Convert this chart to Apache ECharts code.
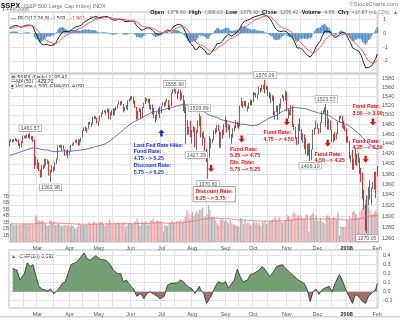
<!DOCTYPE html>
<html>
<head>
<meta charset="utf-8">
<script src="https://cdn.jsdelivr.net/npm/echarts@6/dist/echarts.min.js"></script>
<style>
html,body{margin:0;padding:0;background:#fff}
#chart{width:400px;height:322px}
</style>
</head>
<body>
<div id="chart"></div>
<script>
// $SPX daily bars, 1-Feb-2007 .. 1-Feb-2008 (253 sessions)
// closes from Nov-2006 to Jan-2007, used only to seed the moving averages
const priorCloses = [
  1367.8,1367.3,1364.3,1379.8,1382.8,1385.7,1378.3,1380.9,1384.4,1393.2,1396.6,1399.8,1401.2,1400.5,1402.8,1406.1,1400.9,1381.4,1386.7,1399.5,1400.6,
  1396.7,1409.1,1414.8,1412.9,1407.3,1409.8,1413.0,1411.6,1413.2,1425.5,1427.1,1422.5,1425.5,1423.5,1418.3,1410.8,1416.9,1426.8,1424.7,1418.3,
  1416.6,1418.3,1409.7,1412.8,1412.1,1414.9,1423.8,1430.7,1431.9,1430.6,1426.4,1430.5,1423.0,1428.0,1440.1,1423.9,1422.2,1420.6,1428.8,1438.2
];

const opens = [
  1438,1446,1448,1447,1448,1450,1448,1438,1433,1444,1455,1456,1455,1460,1458,1456,1451,1449,1399,
  1407,1403,1387,1374,1395,1392,1402,1403,1406,1378,1387,1392,1387,1402,1411,1435,1435,1436,1437,1429,1417,1423,
  1421,1425,1438,1439,1444,1445,1448,1439,1448,1453,1468,1471,1472,1471,1484,1481,1480,1495,1494,1494,
  1482,1486,1496,1502,1506,1509,1508,1513,1491,1506,1503,1501,1514,1513,1523,1525,1524,1522,1508,1516,1518,1530,
  1531,1536,1539,1531,1517,1491,1508,1509,1493,1516,1523,1533,1531,1534,1513,1522,1503,1498,1493,1506,1506,
  1503,1519,1525,1525,1530,1532,1510,1519,1548,1553,1550,1549,1546,1553,1534,1542,1511,1518,1483,1459,1474,
  1455,1466,1472,1433,1468,1477,1497,1453,1454,1453,1427,1407,1411,1446,1446,1447,1464,1463,1479,1467,1432,1464,1458,
  1474,1489,1472,1479,1454,1452,1471,1472,1484,1484,1477,1520,1529,1519,1526,1518,1517,1525,1531,
  1527,1547,1547,1540,1543,1558,1553,1565,1562,1554,1562,1549,1539,1541,1540,1501,1506,1520,1516,1514,1535,1541,1531,
  1549,1508,1510,1502,1520,1476,1475,1454,1439,1481,1471,1451,1459,1433,1440,1417,1441,1407,1428,1469,1470,
  1481,1472,1463,1485,1507,1505,1516,1478,1487,1488,1468,1446,1455,1453,1460,1484,1496,1498,1476,1478,
  1468,1447,1445,1412,1416,1390,1406,1420,1402,1411,1378,1374,1334,1312,1310,1340,1357,1330,1353,1363,1356,1378.60
];
const highs = [
  1447,1450,1449,1450,1452,1450,1449,1441,1446,1457,1457,1457,1460,1460,1461.57,1456,1456,1449,1415,
  1409,1403,1389,1398,1398,1410,1410,1409,1406,1388,1397,1394,1404,1411,1437,1438,1438,1438,1437,1429,1426,1429,
  1425,1438,1441,1444,1448,1449,1449,1449,1453,1468,1474,1476,1473,1485,1486,1484,1496,1498,1497,1494,
  1487,1499,1505,1510,1511,1509,1514,1513,1506,1510,1514,1514,1517,1523,1529,1529,1530,1523,1517,1521,1531,1535,
  1540,1540,1539,1531,1517,1508,1515,1513,1517,1526,1538,1535,1535,1535,1522,1522,1515,1500,1507,1514,1518,
  1519,1527,1527,1531,1534,1532,1522,1548,1555,1555.90,1555,1550,1555,1553,1547,1542,1531,1518,1489,1475,1488,
  1469,1477,1474,1468,1488,1503.89,1497,1463,1466,1453,1430,1416,1456,1451,1450,1468,1472,1479,1479,1467,1464,1469,1481,
  1497,1489,1481,1479,1460,1472,1478,1489,1485,1484,1520,1538,1529,1530,1530,1518,1526,1533,1532,
  1549,1548,1547,1544,1561,1558,1565,1565,1576.09,1563,1562,1549,1546,1542,1540,1508,1521,1520,1524,1535,1544,1541,1553,
  1549,1513,1510,1521,1520,1482,1475,1454,1481,1492,1471,1462,1459,1452,1440,1441,1441,1429,1469,1473,1488,
  1482,1472,1485,1508,1511,1516,1523.57,1511,1492,1488,1468,1460,1464,1462,1485,1498,1499,1498,1488,1478,
  1472,1456,1447,1418,1428,1410,1431,1420,1422,1411,1392,1383,1350,1322,1339,1355,1368,1354,1365,1384,1385,1396.02
];
const lows = [
  1435,1444,1443,1444,1446,1444,1436,1431,1433,1441,1452,1450,1452,1452,1450,1448,1444,1390,1397,
  1390,1386,1373,1374,1389,1392,1397,1400,1377,1363.98,1383,1384,1387,1400,1409,1432,1432,1425,1428,1416,1417,1411,
  1417,1425,1436,1437,1442,1441,1436,1437,1444,1453,1466,1466,1463,1471,1479,1475,1480,1491,1491,1482,
  1477,1486,1495,1501,1505,1500,1505,1491,1491,1499,1498,1500,1509,1513,1522,1520,1522,1505,1508,1512,1510,1528,
  1530,1533,1524,1515,1490,1491,1506,1492,1493,1515,1523,1529,1525,1512,1510,1501,1493,1484,1490,1501,1493,
  1503,1519,1516,1520,1528,1510,1510,1519,1546,1549,1545,1533,1546,1530,1534,1508,1504,1440,1458,1459,1454,
  1440,1464,1433,1427.39,1463,1476,1453,1436,1451,1426,1404,1370.60,1411,1431,1441,1447,1460,1463,1466,1432,1432,1451,1458,
  1474,1463,1468,1453,1440,1452,1465,1472,1474,1471,1476,1518,1514,1519,1516,1507,1513,1521,1520,
  1527,1542,1537,1534,1543,1548,1552,1556,1546,1554,1540,1535,1525,1530,1500,1490,1506,1489,1503,1514,1535,1529,1531,
  1508,1492,1499,1499,1475,1468,1450,1438,1439,1466,1448,1443,1429,1419,1415,1417,1406.10,1407,1428,1458,1470,
  1470,1460,1463,1483,1502,1505,1475,1469,1469,1467,1444,1443,1446,1449,1460,1484,1492,1473,1470,1466,
  1442,1443,1410,1403,1389,1388,1398,1396,1402,1380,1365,1332,1313,1274,1270.05,1320,1331,1322,1351,1350,1334,1375.93
];
const closes = [
  1446,1448,1447,1448,1450,1448,1438,1433,1444,1455,1457,1456,1460,1458,1456,1451,1449,1399,1407,
  1403,1387,1374,1395,1392,1402,1403,1407,1378,1387,1392,1387,1402,1411,1435,1435,1436,1438,1429,1417,1423,1421,
  1425,1438,1439,1444,1445,1448,1439,1448,1453,1468,1471,1473,1471,1484,1481,1480,1495,1494,1494,1482,
  1486,1496,1502,1506,1509,1508,1513,1491,1506,1503,1501,1514,1513,1523,1525,1524,1522,1508,1516,1518,1530,1531,
  1536,1539,1531,1517,1491,1508,1509,1493,1516,1523,1533,1531,1534,1513,1522,1503,1498,1493,1506,1506,1503,
  1519,1525,1525,1530,1532,1510,1519,1548,1553,1550,1549,1546,1553,1534,1542,1511,1518,1483,1459,1474,1455,
  1466,1472,1433,1468,1477,1497,1453,1454,1453,1427,1407,1411,1446,1446,1447,1464,1463,1479,1467,1432,1464,1458,1474,
  1489,1472,1479,1454,1452,1471,1472,1484,1484,1477,1520,1529,1519,1526,1518,1517,1525,1531,1527,
  1547,1547,1540,1543,1558,1553,1565,1562,1554,1562,1549,1539,1541,1540,1501,1506,1520,1516,1514,1535,1541,1531,1549,
  1508,1510,1502,1520,1476,1475,1454,1439,1481,1471,1451,1459,1433,1440,1417,1441,1407,1428,1469,1470,1481,
  1472,1463,1485,1507,1505,1516,1478,1487,1488,1468,1446,1455,1453,1460,1484,1496,1498,1476,1478,1468,
  1447,1447,1412,1416,1390,1409,1420,1401,1416,1381,1373,1333,1325,1311,1339,1352,1331,1354,1362,1356,1378.55,1395.42
];
// daily volume, billions of shares
const volumes = [
  2.8,2.9,2.6,2.6,2.7,2.6,2.7,2.6,2.7,2.9,2.8,2.6,2.9,2.7,2.8,2.7,2.8,4.1,4.0,
  3.4,3.2,3.3,3.3,3.0,2.8,2.5,2.6,3.4,3.3,2.9,3.2,2.6,2.7,2.9,2.6,2.4,2.5,2.6,2.7,2.5,2.7,
  2.3,2.6,2.5,2.1,2.0,2.4,2.9,2.6,2.7,2.6,2.7,2.7,2.6,3.0,2.7,2.8,3.1,2.9,2.9,2.6,
  3.0,3.1,3.1,2.8,2.5,2.9,2.8,3.5,2.9,2.7,3.0,2.8,2.9,3.0,2.9,2.7,2.9,3.0,2.1,2.5,2.9,3.0,
  2.9,2.8,3.1,3.1,3.6,3.1,2.5,3.2,3.0,3.0,3.2,2.6,2.8,3.3,3.3,3.6,3.0,3.3,3.3,3.2,3.2,
  2.9,1.6,2.6,2.5,2.5,3.0,3.0,3.3,3.0,3.0,3.2,3.2,3.2,3.5,3.0,3.4,3.9,4.9,4.5,3.5,4.2,
  4.6,4.0,4.4,4.8,4.4,5.0,5.0,5.3,3.8,4.0,4.3,5.7,5.0,3.8,3.9,3.8,3.4,2.9,2.6,3.4,3.5,3.4,3.2,
  3.4,3.0,2.9,3.4,2.9,2.7,2.7,2.6,2.4,2.4,3.7,3.6,2.8,3.5,2.8,3.0,2.9,2.6,2.8,
  3.1,2.9,3.1,2.7,2.9,2.4,3.0,3.0,3.4,2.8,3.0,3.3,3.3,3.5,3.7,3.8,3.3,3.7,3.9,3.2,3.0,3.2,3.3,
  4.2,4.0,3.9,3.5,4.4,4.6,4.2,3.9,4.1,4.1,3.9,3.6,3.6,4.3,4.1,1.6,4.0,4.2,4.5,3.4,4.1,
  3.3,3.3,3.7,3.1,3.0,2.8,4.0,4.2,3.9,3.4,3.6,3.8,3.5,3.5,4.5,1.1,2.4,2.3,2.3,2.4,
  3.6,3.2,4.0,3.7,4.6,4.8,4.4,4.2,3.7,4.6,4.9,5.2,5.6,6.5,7.2,5.4,4.9,4.2,4.4,4.6,4.9,4.5
];
// Chaikin Money Flow (20), sampled sessions and values
const cmfDays = [2,5,7,10,12,14,16,18,20,22,26,28,30,32,36,38,42,46,51,53,55,59,62,66,69,71,74,76,78,80,83,85,87,90,92,94,96,99,101,103,106,108,110,115,117,119,122,125,127,130,131,133,135,138,141,143,146,148,150,154,156,158,160,163,165,167,171,173,175,178,180,183,187,189,191,195,198,202,204,206,208,210,212,214,216,219,221,223,226,228,231,235,237,239,242,244,246,248,251,252];
const cmfValues = [0.26,0.24,0.13,0.20,0.32,0.28,0.30,0.17,0.06,0.03,0.01,0.03,-0.02,0.00,0.09,0.11,0.30,0.33,0.43,0.37,0.35,0.40,0.36,0.35,0.30,0.24,0.20,0.20,0.11,0.13,0.06,0.03,-0.05,-0.02,-0.08,-0.02,0.00,-0.03,-0.05,-0.08,-0.05,0.07,0.09,0.10,0.13,0.11,0.06,0.03,-0.02,0.06,0.02,-0.02,-0.13,-0.05,0.06,0.11,0.09,0.11,0.04,0.13,0.25,0.17,0.11,0.13,0.19,0.20,0.24,0.28,0.25,0.17,0.20,0.28,0.30,0.26,0.23,0.17,0.13,0.09,0.02,-0.11,0.00,0.03,-0.03,0.02,0.04,0.06,0.00,0.09,0.19,0.13,0.00,-0.13,-0.03,-0.05,-0.11,-0.13,-0.05,-0.02,0.03,0.092];

// axis ticks and calendar marks
const monthStartDays = [19,41,61,83,104,125,148,167,190,211,231,252];
const monthLabels = ['Mar','Apr','May','Jun','Jul','Aug','Sep','Oct','Nov','Dec','2008','Feb'];
const midMonthDays = [10,30,50,71,93,113,135,157,177,200,221,240];
const priceTicks = [1260,1280,1300,1320,1340,1360,1380,1400,1420,1440,1460,1480,1500,1520,1540,1560,1580];
const ppoTicks = [-2,-1,0,1];
const volumeTicks = [1,2,3,4,5,6,7];
const cmfTicks = [-0.1,0,0.1,0.2,0.3,0.4];

// swing highs / lows that carry a price tag
const pivotDays = [14,28,113,128,130,136,175,206,217,245];
const pivotSides = ['high','low','high','low','high','low','high','low','high','low'];

// Fed announcements: arrow anchors and note anchors (session, price)
const arrowDays = [104,138,159,190,218,249,244];
const arrowPrices = [1462,1391,1450,1485,1441,1485,1409];
const noteDays = [85,126,151,174,209,235,235];
const notePrices = [1444,1355,1436,1470,1426,1525,1452];
const noteTexts = [
  'Last Fed Rate Hike:\nFund Rate:\n4.75 --> 5.25\nDiscount Rate:\n5.75 --> 6.25',
  'Discount Rate:\n6.25 --> 5.75',
  'Fund Rate:\n5.25 --> 4.75\nDis. Rate:\n5.75 --> 5.25',
  'Fund Rate:\n4.75 --> 4.50',
  'Fund Rate:\n4.50 --> 4.25',
  'Fund Rate:\n3.50 --> 3.00',
  'Fund Rate:\n4.25 --> 3.50'
];

// ---- indicators ----
function ema(src, n) {
  const k = 2 / (n + 1);
  let e = src[0];
  return src.map((v, i) => (e = i === 0 ? v : v * k + e * (1 - k)));
}
const allCloses = priorCloses.concat(closes);
const P = priorCloses.length;
const e12 = ema(allCloses, 12), e26 = ema(allCloses, 26);
const ppoAll = allCloses.map((_, i) => (e12[i] - e26[i]) / e26[i] * 100);
const sigAll = ema(ppoAll, 9);
const ppo = ppoAll.slice(P), ppoSignal = sigAll.slice(P);
const ppoHist = ppo.map((v, i) => v - ppoSignal[i]);
const ma50 = closes.map((_, i) => {
  let s = 0;
  for (let j = i + P - 49; j <= i + P; j++) s += allCloses[j];
  return s / 50;
});
const volEma = ema(volumes, 60);
const prevClose = i => (i === 0 ? priorCloses[P - 1] : closes[i - 1]);

const N = closes.length;
const cats = closes.map((_, i) => String(i));
const last = N - 1;

const FONT = 'Liberation Sans, Arial, sans-serif';
const GRID_LINE = '#e3e3e3';
const FRAME = '#bdbdbd';
const LEFT = 9, WIDTH = 369;

const candleData = closes.map((c, i) => {
  const down = c < prevClose(i);
  const col = down ? '#d00000' : '#4a4a4a';
  return {
    value: [opens[i], c, lows[i], highs[i]],
    itemStyle: { color: '#ffffff', color0: col, borderColor: col, borderColor0: col }
  };
});
const volumeData = volumes.map((v, i) => ({
  value: v,
  itemStyle: { color: closes[i] < prevClose(i) ? '#f4a7ad' : '#b3b3b3' }
}));
const cmfData = cmfDays.map((d, i) => [d, cmfValues[i]]);
const cmfTop = Math.max(...cmfValues), cmfBottom = Math.min(...cmfValues);
const cmfZeroStop = cmfTop / (cmfTop - cmfBottom);
const CMF_UP = '#74a074', CMF_DOWN = '#a86a6a';

const isGridDay = i => i === 0 || monthStartDays.includes(i) || midMonthDays.includes(i);

function xAxisFor(gridIndex, withLabels) {
  return {
    type: 'category', gridIndex, data: cats, boundaryGap: true,
    axisLine: { show: false }, axisTick: { show: false },
    axisLabel: withLabels ? {
      show: true, fontSize: 5.5, color: '#555', fontFamily: FONT, margin: 3,
      interval: idx => monthStartDays.includes(idx),
      formatter: (v) => {
        const t = monthLabels[monthStartDays.indexOf(Number(v))];
        return t === '2008' ? '{b|2008}' : t;
      },
      rich: { b: { fontWeight: 'bold', fontSize: 5.5, color: '#222', fontFamily: FONT } }
    } : { show: false },
    splitLine: { show: true, interval: idx => isGridDay(idx), lineStyle: { color: GRID_LINE, width: 1 } }
  };
}

const pivotMarks = pivotDays.map((d, i) => {
  const hi = pivotSides[i] === 'high';
  const v = hi ? highs[d] : lows[d];
  return {
    coord: [d, v], symbol: 'rect', symbolSize: 0,
    label: {
      show: true, position: hi ? 'top' : 'bottom', distance: 2,
      formatter: v.toFixed(2), fontSize: 5.2, color: '#555', fontFamily: FONT,
      backgroundColor: '#ffffff', borderColor: '#9a9a9a', borderWidth: 0.6, padding: [1, 1.5, 0, 1.5]
    }
  };
});
const DOWN_ARROW = 'path://M3,0L7,0L7,5L10,5L5,10L0,5L3,5Z';
const UP_ARROW = 'path://M5,0L10,5L7,5L7,10L3,10L3,5L0,5Z';
const arrowMarks = arrowDays.map((d, i) => ({
  coord: [d, arrowPrices[i]], symbol: i === 0 ? UP_ARROW : DOWN_ARROW, symbolSize: [6, 7],
  itemStyle: { color: i === 0 ? '#1030e0' : '#e01010' }, label: { show: false }
}));
const noteMarks = noteDays.map((d, i) => ({
  coord: [d, notePrices[i]], symbol: 'rect', symbolSize: 0,
  label: Object.assign({
    show: true, position: [0, 0], align: 'left', verticalAlign: 'top',
    formatter: noteTexts[i], fontSize: 5.3, lineHeight: 6.7, fontWeight: 'bold', fontFamily: FONT,
    color: i === 0 ? '#1a2cf0' : '#ee1111'
  }, i === 1 ? { backgroundColor: '#ffffff', borderColor: '#8a8a8a', borderWidth: 0.8, padding: [1, 2, 0, 2] } : {})
}));

const option = {
  animation: false,
  backgroundColor: '#ffffff',
  textStyle: { fontFamily: FONT },
  grid: [
    { left: LEFT, width: WIDTH, top: 12, height: 61, show: true, borderColor: FRAME, borderWidth: 1, backgroundColor: '#fff' },
    { left: LEFT, width: WIDTH, top: 74, height: 168, show: true, borderColor: FRAME, borderWidth: 1, backgroundColor: '#fff' },
    { left: LEFT, width: WIDTH, top: 190, height: 52, show: false },
    { left: LEFT, width: WIDTH, top: 250, height: 58, show: true, borderColor: FRAME, borderWidth: 1, backgroundColor: '#fff' }
  ],
  xAxis: [
    xAxisFor(0, false),
    xAxisFor(1, true),
    Object.assign(xAxisFor(2, false), { splitLine: { show: false } }),
    xAxisFor(3, true)
  ],
  yAxis: [
    { type: 'value', gridIndex: 0, position: 'right', min: -2.88, max: 1.54,
      axisLine: { show: false }, axisTick: { show: false, customValues: ppoTicks },
      axisLabel: { customValues: ppoTicks, fontSize: 5.5, color: '#555', margin: 5 },
      splitLine: { show: true, lineStyle: { color: GRID_LINE } } },
    { type: 'log', logBase: 10, gridIndex: 1, position: 'right', min: 1254, max: 1589,
      axisLine: { show: false }, axisTick: { show: false, customValues: priceTicks },
      axisLabel: { customValues: priceTicks, formatter: v => String(Math.round(v)), fontSize: 5.5, color: '#555', margin: 4 },
      splitLine: { show: true, lineStyle: { color: GRID_LINE } } },
    { type: 'value', gridIndex: 2, position: 'left', min: 0, max: 8,
      axisLine: { show: false }, axisTick: { show: false, customValues: volumeTicks },
      axisLabel: { customValues: volumeTicks, formatter: v => v + 'B', fontSize: 4.8, color: '#666', margin: 1 },
      splitLine: { show: false } },
    { type: 'value', gridIndex: 3, position: 'right', min: -0.181, max: 0.463,
      axisLine: { show: false }, axisTick: { show: false, customValues: cmfTicks },
      axisLabel: { customValues: cmfTicks, formatter: v => v.toFixed(1), fontSize: 5.5, color: '#555', margin: 5 },
      splitLine: { show: true, lineStyle: { color: GRID_LINE } } }
  ],
  series: [
    { name: 'PPO hist', type: 'bar', xAxisIndex: 0, yAxisIndex: 0, data: ppoHist,
      barCategoryGap: '0%', itemStyle: { color: '#4f93cc' } },
    { name: 'PPO', type: 'line', xAxisIndex: 0, yAxisIndex: 0, data: ppo, symbol: 'none',
      lineStyle: { color: '#111', width: 0.9 } },
    { name: 'Signal', type: 'line', xAxisIndex: 0, yAxisIndex: 0, data: ppoSignal, symbol: 'none',
      lineStyle: { color: '#ff4c4c', width: 0.9 } },
    { name: 'Volume', type: 'bar', xAxisIndex: 2, yAxisIndex: 2, data: volumeData,
      barCategoryGap: '15%' },
    { name: 'Volume EMA', type: 'line', xAxisIndex: 2, yAxisIndex: 2, data: volEma, symbol: 'none',
      lineStyle: { color: '#ee7070', width: 0.8 } },
    { name: '$SPX', type: 'candlestick', xAxisIndex: 1, yAxisIndex: 1, data: candleData,
      barWidth: 1, itemStyle: { borderWidth: 0.8 } },
    { name: 'MA(50)', type: 'line', xAxisIndex: 1, yAxisIndex: 1, data: ma50, symbol: 'none',
      lineStyle: { color: '#4848a8', width: 0.8 }, z: 3,
      markPoint: { silent: true, data: pivotMarks.concat(arrowMarks, noteMarks) } },
    { name: 'CMF', type: 'line', xAxisIndex: 3, yAxisIndex: 3, data: cmfData, symbol: 'none',
      lineStyle: { color: '#2a2a2a', width: 0.8 },
      areaStyle: { opacity: 1, color: new echarts.graphic.LinearGradient(0, 0, 0, 1, [
        { offset: 0, color: CMF_UP }, { offset: cmfZeroStop, color: CMF_UP },
        { offset: cmfZeroStop, color: CMF_DOWN }, { offset: 1, color: CMF_DOWN }]) } }
  ],
  graphic: []
};

const gray = '#777';
const chg = closes[last] - closes[last - 1];
const pct = chg / closes[last - 1] * 100;
const sgn = x => (x >= 0 ? '+' : '') + x.toFixed(2);
option.graphic = [
  { type: 'text', x: 1, y: 0, style: {
      text: '{a|$SPX} {b|(S&P 500 Large Cap Index) INDX}',
      rich: { a: { font: 'bold 7.5px ' + FONT, fill: '#111' }, b: { font: '5.5px ' + FONT, fill: gray } } } },
  { type: 'text', x: 398, y: 1, style: { text: '©StockCharts.com', align: 'right', font: '5.8px ' + FONT, fill: '#777' } },
  { type: 'text', x: 2, y: 7.5, style: { text: '1-Feb-2008', font: '5.2px ' + FONT, fill: gray } },
  { type: 'text', x: 398, y: 6.5, style: {
      align: 'right',
      text: '{k|Open} {v|' + opens[last].toFixed(2) + '} {k|High} {v|' + highs[last].toFixed(2) +
            '} {k|Low} {v|' + lows[last].toFixed(2) + '} {k|Close} {v|' + closes[last].toFixed(2) +
            '} {k|Volume} {v|' + volumes[last].toFixed(1) + 'B} {k|Chg} {v|' + sgn(chg) + ' (' + sgn(pct) + '%)} {g|▲}',
      rich: { k: { font: 'bold 5.4px ' + FONT, fill: '#111' }, v: { font: '5.1px ' + FONT, fill: gray }, g: { font: '5px ' + FONT, fill: '#2a9a2a' } } } },
  { type: 'text', x: 11, y: 13, style: {
      text: '{k|— PPO(12,26,9) ' + ppo[last].toFixed(3) + ',} {r|' + ppoSignal[last].toFixed(3) + ',} {b|' + ppoHist[last].toFixed(3) + '}',
      rich: { k: { font: '5.2px ' + FONT, fill: '#333' }, r: { font: '5.2px ' + FONT, fill: '#ee3333' }, b: { font: '5.2px ' + FONT, fill: '#2f7fc0' } } } },
  { type: 'text', x: 11, y: 75, style: { text: '▦ $SPX (Daily) ' + closes[last].toFixed(2), font: '5.2px ' + FONT, fill: '#333' } },
  { type: 'text', x: 11, y: 79.5, style: {
      text: '{m|—}{t|MA(50) ' + ma50[last].toFixed(2) + '}',
      rich: { m: { font: 'bold 5.2px ' + FONT, fill: '#4848a8' }, t: { font: '5.2px ' + FONT, fill: '#333' } } } },
  { type: 'text', x: 11, y: 84, style: {
      text: '▮ Volume ' + Math.round(volumes[last] * 1000).toLocaleString('en-US') + ', EMA(60) ' + Math.round(volEma[last] * 1000).toLocaleString('en-US'),
      font: '5.2px ' + FONT, fill: '#333' } },
  { type: 'text', x: 11, y: 251, style: {
      text: '{g|▲} {t|CMF(20) ' + cmfValues[cmfValues.length - 1].toFixed(3) + '}',
      rich: { g: { font: '5px ' + FONT, fill: '#3a7a3a' }, t: { font: '5.2px ' + FONT, fill: '#333' } } } },
  { type: 'rect', shape: { x: 0, y: 316, width: 400, height: 1.5 }, style: { fill: '#d4d4d4' } }
];

const chart = echarts.init(document.getElementById('chart'), null, { renderer: 'canvas' });
chart.setOption(option);
</script>
</body>
</html>
